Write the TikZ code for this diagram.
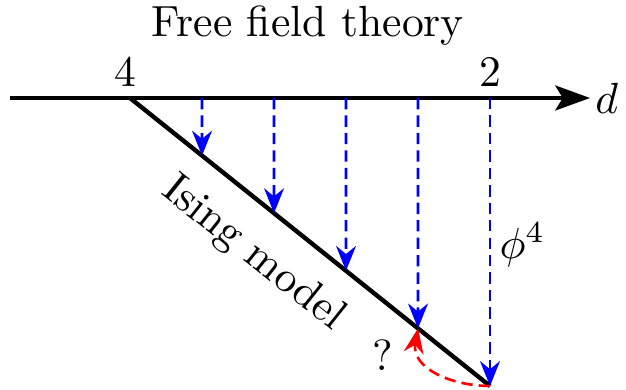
\documentclass[tikz,border=0pt]{standalone}
\usepackage{amsmath,amssymb}
\usetikzlibrary{arrows.meta,calc,positioning}
\tikzset{
  axis/.style={-{Stealth[length=2.8mm,width=2mm,inset=0.6mm]},line width=1pt},
  ising/.style={line width=1pt},
  flow/.style={-{Stealth[length=2mm,width=1.6mm]},blue,dash pattern=on 2.6pt off 1.4pt,semithick},
  back/.style={-{Stealth[length=2mm,width=1.6mm]},red,dash pattern=on 2.6pt off 1.4pt,semithick},
  every node/.style={font=\normalsize}
}
\begin{document}
\begin{tikzpicture}[x=0.58cm,y=0.58cm]
\useasboundingbox (-1.806,-4.042) rectangle (6.889,1.361);
% axis of dimensions
\coordinate (A) at (-1.67,0);
\coordinate (B) at (6.39,0);
\draw[axis] (A) -- (B);
\node (dlab) at (6.62,0) {$d$};
\node (four) at (-0.07,0.36) {$4$};
\node (two) at (5,0.36) {$2$};
\node (free) at (2.47,1.0) {Free field theory};
% Ising line
\coordinate (L0) at (0,0);
\coordinate (L5) at (5,-4);
\draw[ising] (L0) -- node[pos=0.42,sloped,below=2pt] (ising) {Ising model} (L5);
\foreach \k in {1,...,5} {
  \coordinate (T\k) at (\k,0);
  \coordinate (P\k) at ($(L0)!\k/5!(L5)$);
  \draw[flow] (T\k) -- (P\k);
}
\node (phi) at (5.45,-2.04) {$\phi^4$};
% way back
\draw[back] (P5) to[out=180,in=-100,looseness=1.1] (P4);
\node (q) at (3.51,-3.57) {?};
\end{tikzpicture}
\end{document}
